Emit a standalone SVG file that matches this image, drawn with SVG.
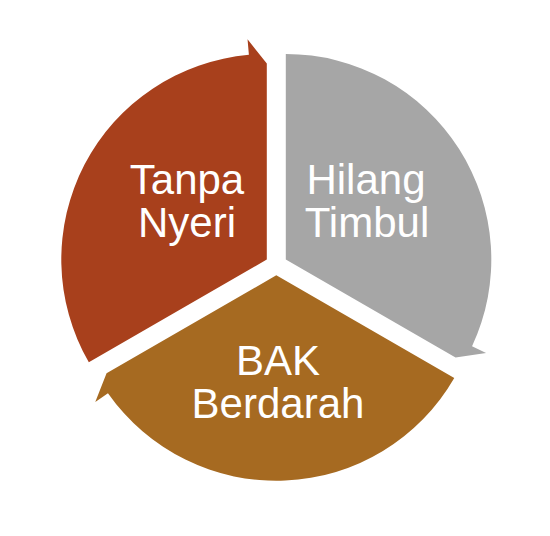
<svg xmlns="http://www.w3.org/2000/svg" width="550" height="536" viewBox="0 0 550 536">
  <style>
    .lbl { font-family: "Liberation Sans", Arial, sans-serif; font-size: 42px; fill: #FFFFFF; text-anchor: middle; }
    .red { fill: #A8401C; }
    .grey { fill: #A6A6A6; }
    .brown { fill: #A66A21; }
  </style>
  <rect width="550" height="536" fill="#FFFFFF"/>
  <g id="tanpa-nyeri">
    <path class="red" d="M266.8,259.5 L88.83,362.25 A205.5,205.5 0 0 1 248.89,54.78 L247.54,39.34 L266.8,63.5 Z"/>
    <text class="lbl" x="187" y="194">Tanpa</text>
    <text class="lbl" x="187" y="237">Nyeri</text>
  </g>
  <g id="hilang-timbul">
    <path class="grey" d="M285.8,259.5 L285.8,54 A205.5,205.5 0 0 1 472.05,346.35 L486.09,352.9 L455.54,357.5 Z"/>
    <text class="lbl" x="366" y="194">Hilang</text>
    <text class="lbl" x="367" y="237">Timbul</text>
  </g>
  <g id="bak-berdarah">
    <path class="brown" d="M276.3,275.3 L454.27,378.05 A205.5,205.5 0 0 1 107.96,393.17 L95.27,402.06 L106.56,373.3 Z"/>
    <text class="lbl" x="278" y="375">BAK</text>
    <text class="lbl" x="278" y="418">Berdarah</text>
  </g>
</svg>
